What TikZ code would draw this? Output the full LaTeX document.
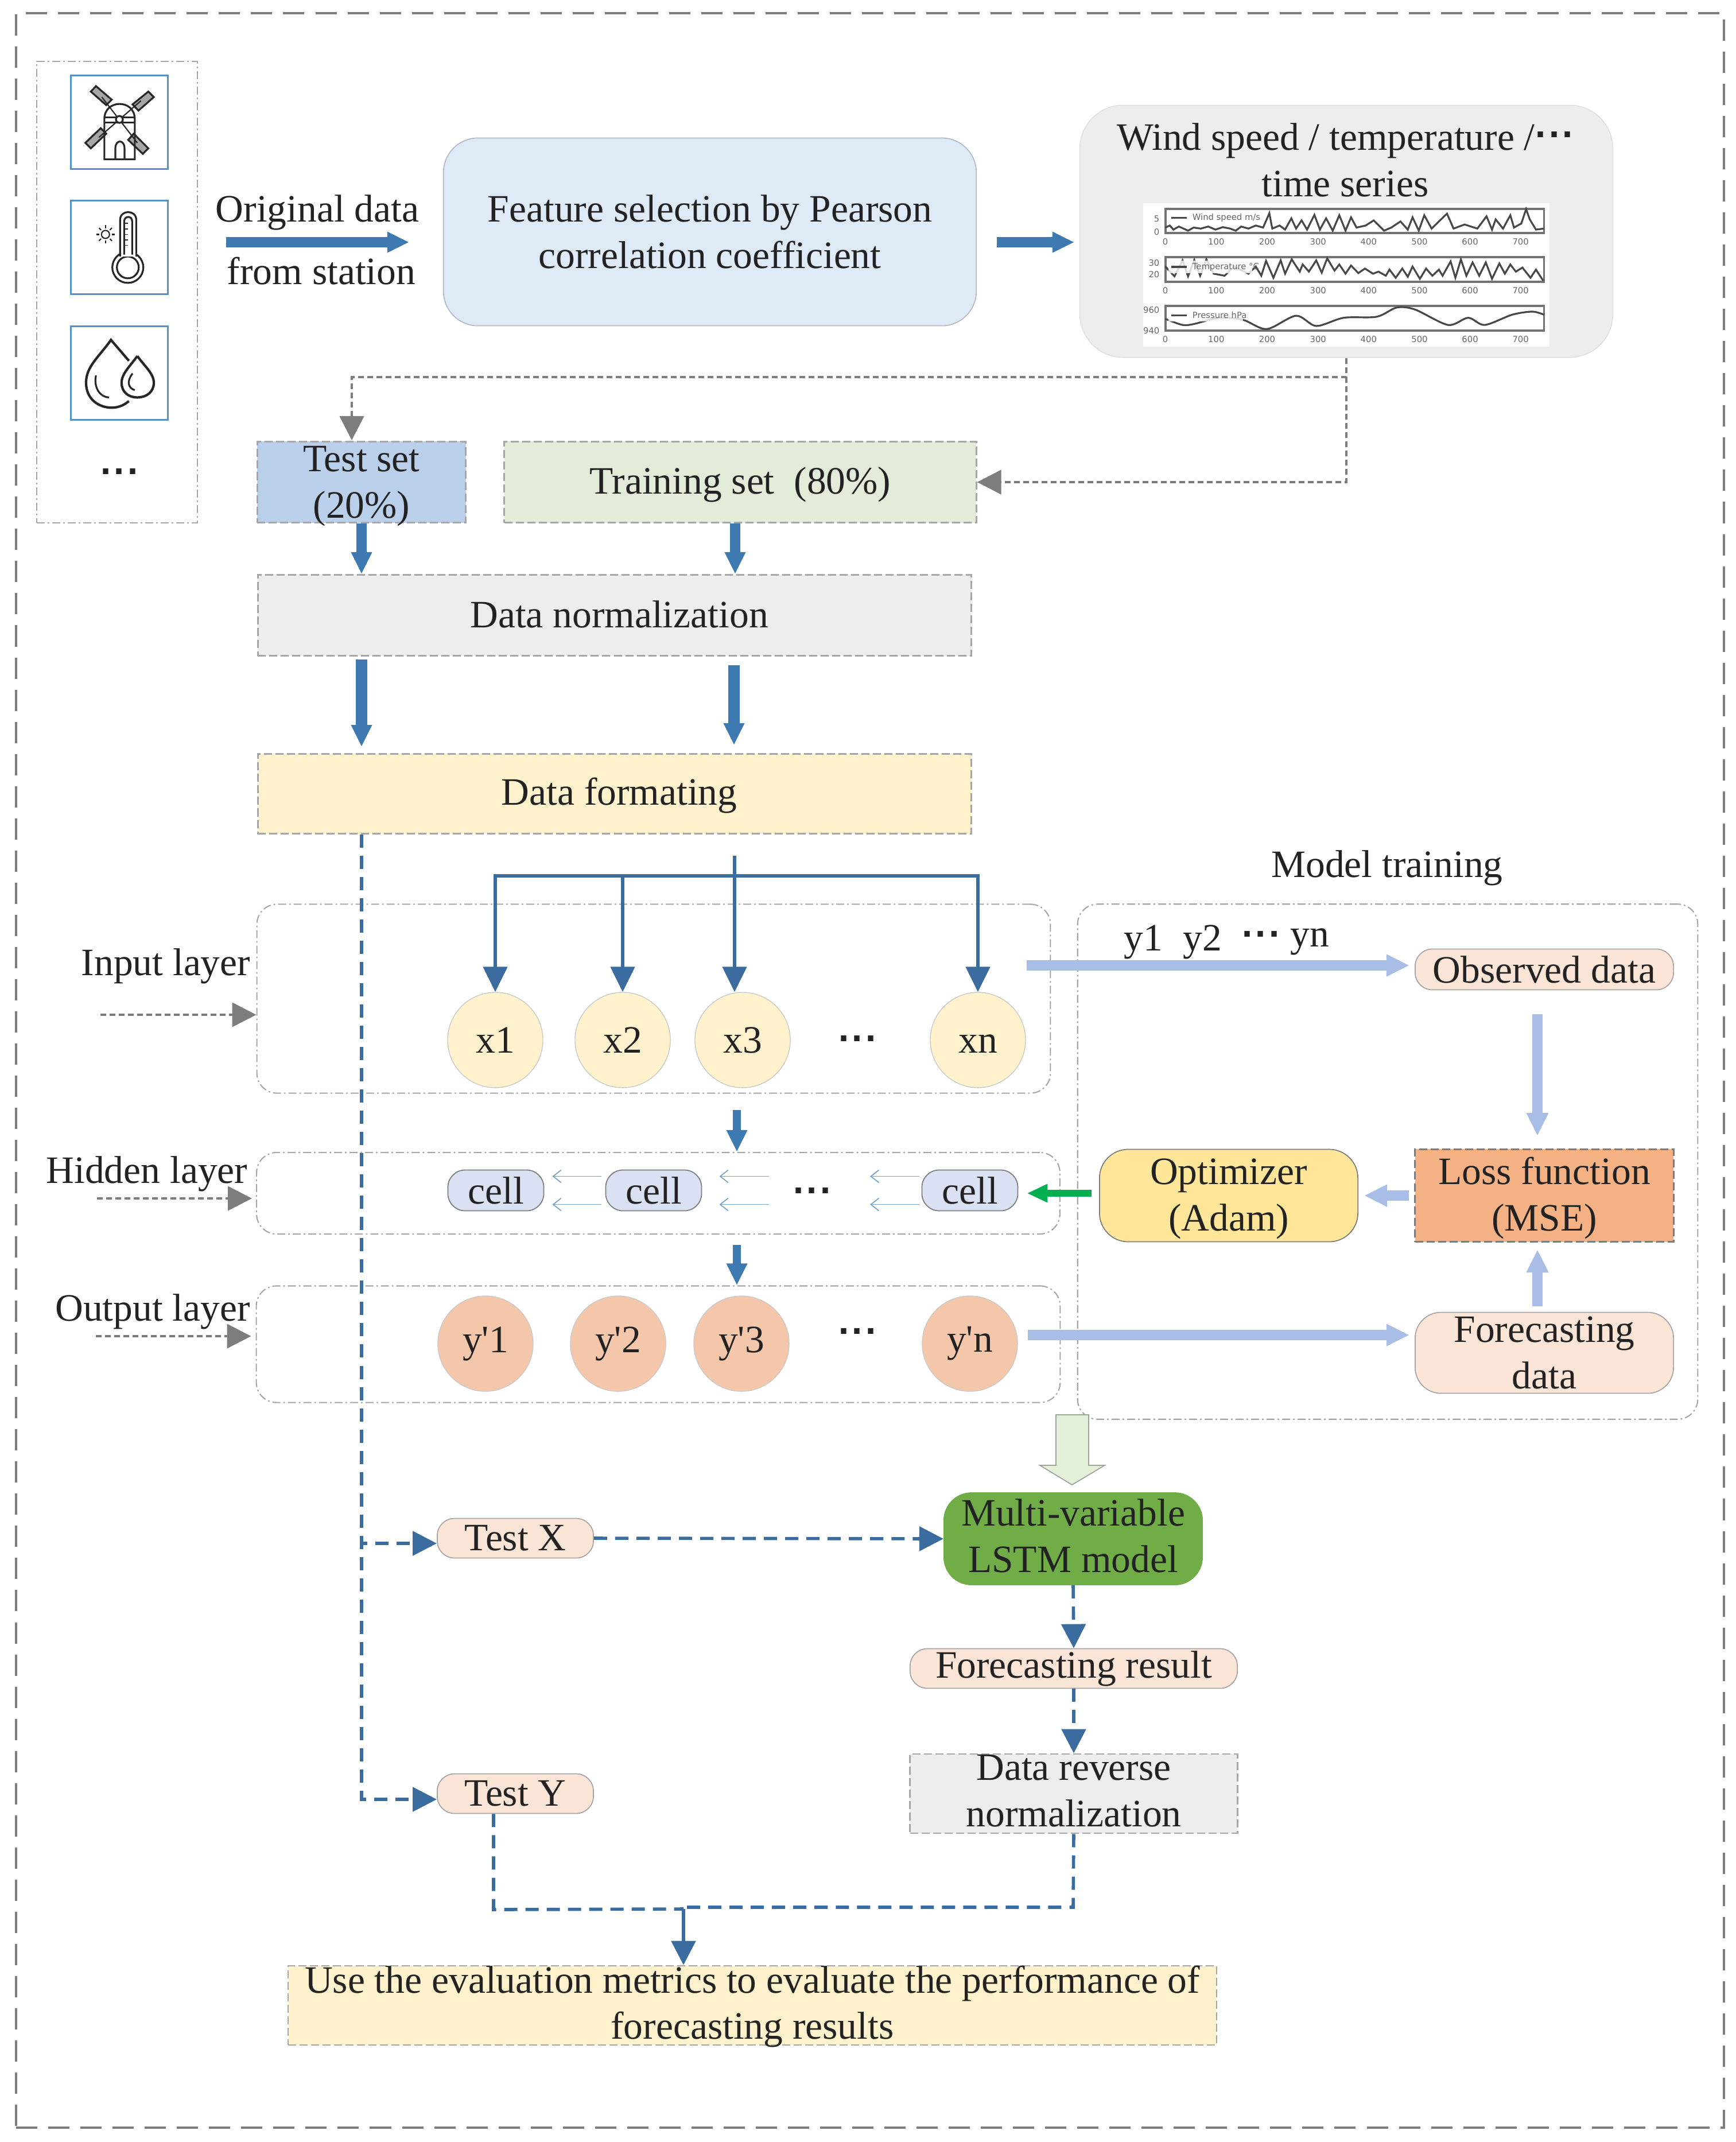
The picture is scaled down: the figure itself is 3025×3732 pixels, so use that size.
\documentclass[tikz,border=0pt]{standalone}
\usepackage{fontspec}
\setmainfont{Liberation Serif}
\newfontfamily\dotfont{DejaVu Sans}
\newfontfamily\plotfont{DejaVu Sans}
\usetikzlibrary{arrows.meta, calc}
\definecolor{inktext}{RGB}{34, 34, 34}
\definecolor{framegray}{RGB}{125, 125, 125}
\definecolor{linegray}{RGB}{166, 166, 166}
\definecolor{arrowblue}{RGB}{62, 122, 178}
\definecolor{treeblue}{RGB}{58, 108, 160}
\definecolor{lightarrow}{RGB}{168, 190, 230}
\definecolor{iconblue}{RGB}{84, 146, 204}
\definecolor{featfill}{RGB}{222, 234, 246}
\definecolor{seriesfill}{RGB}{237, 237, 237}
\definecolor{testfill}{RGB}{186, 207, 233}
\definecolor{trainfill}{RGB}{226, 236, 217}
\definecolor{yellowfill}{RGB}{255, 242, 204}
\definecolor{peachfill}{RGB}{251, 229, 214}
\definecolor{outfill}{RGB}{244, 199, 171}
\definecolor{cellfill}{RGB}{217, 225, 242}
\definecolor{lossfill}{RGB}{244, 177, 131}
\definecolor{optfill}{RGB}{255, 230, 153}
\definecolor{lstmfill}{RGB}{112, 173, 71}
\definecolor{bigarrow}{RGB}{226, 240, 217}
\definecolor{greenhead}{RGB}{0, 176, 80}
\newcommand{\sqdots}{{\dotfont\bfseries\fontsize{15}{15}\selectfont.\kern1pt.\kern1pt.}}
\newcommand{\dropstrut}{\rule{0pt}{16pt}}
\tikzset{
  dashbox/.style={draw=linegray, line width=0.8pt, dash pattern=on 0.14cm off 0.06cm, minimum width=#1, inner sep=0pt, align=center},
  layerbox/.style={draw=linegray, line width=0.6pt, dash pattern=on 0.14cm off 0.05cm on 0.03cm off 0.05cm, rounded corners=0.35cm},
  softbox/.style={draw=linegray, line width=0.5pt, inner sep=0pt, align=center, rounded corners=#1},
  incirc/.style={circle, draw=linegray!60, line width=0.4pt, fill=yellowfill, minimum size=1.66cm, inner sep=0pt},
  outcirc/.style={circle, draw=linegray!60, line width=0.4pt, fill=outfill, minimum size=1.66cm, inner sep=0pt},
  cellnode/.style={draw=framegray, line width=0.5pt, fill=cellfill, rounded corners=0.3cm, minimum width=1.67cm, minimum height=0.71cm, inner sep=0pt},
  iconbox/.style={draw=iconblue, line width=1.1pt, fill=white, minimum width=1.69cm, minimum height=1.63cm},
  boxtext/.style={align=center, inner sep=0pt},
  fatblue/.style={draw=arrowblue, line width=0.18cm, -{Triangle[length=0.38cm,width=0.34cm]}},
  fatlight/.style={draw=lightarrow, line width=0.18cm, -{Triangle[length=0.4cm,width=0.36cm]}},
  tree/.style={draw=treeblue, line width=1.5pt, -{Triangle[length=0.44cm,width=0.42cm]}},
  dashblue/.style={draw=treeblue, line width=1.6pt, dash pattern=on 0.23cm off 0.14cm, -{Triangle[length=0.42cm,width=0.42cm]}},
  dotgray/.style={draw=framegray, line width=1.3pt, dash pattern=on 0.1cm off 0.06cm, -{Triangle[length=0.42cm,width=0.42cm]}},
  thinback/.style={draw=arrowblue!70, line width=0.5pt, -{Straight Barb[length=0.14cm,width=0.22cm]}},
  plotline/.style={draw=black!72, line width=0.9pt},
  plotframe/.style={draw=black!55, line width=1.1pt},
  plotlabel/.style={font=\plotfont\fontsize{4.2}{5}\selectfont, text=black!60, inner sep=0pt},
  iconline/.style={draw=black!85, line width=0.9pt}
}

\begin{document}
\begin{tikzpicture}[x=0.01cm, y=-0.01cm, font=\fontsize{19.2}{23}\selectfont, text=inktext]
  \useasboundingbox (0,0) rectangle (3025,3732);

  % Outer frame and station box
  \node[draw=framegray, line width=1.1pt, dash pattern=on 0.37cm off 0.19cm, minimum width=29.74cm, minimum height=36.82cm] (frame) at (1516,1865) {};
  \node[layerbox, rounded corners=0pt, minimum width=2.8cm, minimum height=8.04cm] (station) at (204,509) {};

  % Icons
  \node[iconbox] (iconwind) at (208,213) {};
  \node[iconbox] (icontemp) at (208,431) {};
  \node[iconbox] (iconrain) at (208,650) {};
  \node (stationdots) at (208,821) {\sqdots};
  \begin{scope}[x=0.00638cm, y=-0.00638cm]
    % windmill
    \draw[iconline, fill=black!35] (262,235) -- (305,272) -- (290,287) -- (248,250) -- cycle;
    \draw[iconline, fill=black!35] (362,285) -- (405,250) -- (420,265) -- (378,302) -- cycle;
    \draw[iconline, fill=black!35] (233,390) -- (275,350) -- (290,365) -- (248,405) -- cycle;
    \draw[iconline, fill=black!35] (350,382) -- (365,365) -- (405,405) -- (390,420) -- cycle;
    \draw[iconline] (285,435) -- (285,325) .. controls (285,270) and (368,270) .. (368,325) -- (368,435) -- cycle;
    \draw[iconline] (285,320) -- (368,320) (285,335) -- (368,335);
    \draw[iconline] (315,435) -- (315,405) .. controls (315,380) and (340,380) .. (340,405) -- (340,435);
    \draw[iconline, line width=0.6pt] (278,265) -- (375,390) (385,275) -- (270,375);
    \draw[iconline, fill=white] (326,326) circle (0.06cm);
    % thermometer
    \draw[iconline] (328,692) -- (328,600) .. controls (328,572) and (372,572) .. (372,600) -- (372,692);
    \draw[iconline] (349,730) circle (0.27cm);
    \draw[iconline, fill=white] (349,730) circle (0.19cm);
    \fill[white] (330,680) rectangle (370,700);
    \draw[iconline] (328,692) -- (328,700) (372,692) -- (372,700);
    \draw[iconline] (339,695) -- (339,605) .. controls (339,588) and (361,588) .. (361,605) -- (361,695);
    \foreach \t in {610,625,...,670}
      \draw[iconline, line width=0.5pt] (339,\t) -- (350,\t);
    \draw[iconline, line width=0.6pt] (288,640) circle (0.07cm);
    \foreach \r in {0,45,...,315}
      \draw[iconline, line width=0.6pt] ($(288,640)+(\r:17)$) -- ($(288,640)+(\r:25)$);
    % drops
    \draw[iconline, line width=1.2pt] (352,985) -- (303,928) .. controls (270,975) and (235,1000) .. (235,1045) .. controls (235,1090) and (270,1113) .. (305,1113) .. controls (325,1113) and (340,1105) .. (352,1095);
    \draw[iconline] (262,1025) .. controls (255,1060) and (275,1085) .. (298,1085);
    \draw[iconline, line width=1.2pt] (375,972) .. controls (355,1000) and (332,1020) .. (332,1045) .. controls (332,1070) and (350,1085) .. (375,1085) .. controls (400,1085) and (420,1070) .. (420,1045) .. controls (420,1020) and (395,1000) .. (375,972);
    \draw[iconline] (362,1020) .. controls (345,1040) and (350,1060) .. (368,1065);
  \end{scope}

  % Top row
  \node (origa) at (553,370) {Original data};
  \node (origb) at (560,472) {from station};
  \node[softbox=0.6cm, fill=featfill, draw=featfill!80!black, minimum width=9.28cm, minimum height=3.27cm] (feature) at (1237,404) {Feature selection by Pearson\\correlation coefficient};
  \node[softbox=0.75cm, fill=seriesfill, draw=seriesfill!95!black, minimum width=9.28cm, minimum height=4.39cm] (series) at (2346,403) {};
  \node[align=center] (seriestext) at (2344,279) {Wind speed / temperature /\raisebox{0.7ex}{\sqdots}\\time series};
  \coordinate (stationout) at (394,422);
  \draw[fatblue] (stationout) -- ([xshift=-0.59cm]feature.west |- stationout);
  \draw[fatblue] (feature.east |- stationout) ++(35,0) coordinate (featout) -- ([xshift=-0.09cm]series.west |- featout);

  % Small chart inside the series box
  \node[fill=white, minimum width=7.08cm, minimum height=2.5cm] (chart) at (2346,479) {};
  \begin{scope}[shift={(1850,150)}, x=0.00638cm, y=-0.00357cm]
    \foreach \top/\bot/\lab in {598/716/760, 835/955/998, 1072/1192/1236} {
      \draw[plotframe] (283,\top) rectangle (1317,\bot);
      \foreach \tk/\tx in {283/0, 422/100, 561/200, 700/300, 838/400, 977/500, 1115/600, 1253/700}
        \node[plotlabel] (tick\lab\tx) at (\tk,\lab) {\tx};
    }
    \node[plotlabel, anchor=east] (wa) at (268,648) {5};
    \node[plotlabel, anchor=east] (wb) at (268,712) {0};
    \node[plotlabel, anchor=east] (ta) at (268,862) {30};
    \node[plotlabel, anchor=east] (tb) at (268,918) {20};
    \node[plotlabel, anchor=east] (pa) at (268,1092) {960};
    \node[plotlabel, anchor=east] (pb) at (268,1192) {940};
    \draw[plotline] plot coordinates {(283,690) (295,680) (305,700) (320,685) (345,705) (360,690) (380,695) (400,685) (420,700) (440,688) (460,695) (475,705) (490,685) (510,695) (530,680) (550,690) (567,620) (575,695) (595,680) (610,700) (627,645) (640,695) (655,655) (670,700) (690,628) (705,700) (722,645) (740,705) (758,630) (775,705) (790,640) (805,690) (830,680) (852,655) (880,705) (900,690) (925,660) (945,700) (958,640) (975,705) (990,630) (1010,695) (1030,660) (1052,622) (1070,695) (1100,675) (1135,695) (1160,635) (1175,700) (1185,650) (1205,695) (1225,630) (1235,690) (1255,670) (1268,600) (1278,650) (1295,700) (1317,695)};
    \draw[plotline] plot coordinates {(283,880) (308,928) (330,850) (345,928) (362,848) (378,925) (395,845) (415,915) (445,925) (470,880) (510,915) (530,880) (545,925) (558,852) (578,935) (598,850) (610,915) (628,845) (650,905) (658,870) (675,905) (695,850) (710,910) (725,840) (745,900) (758,870) (775,915) (790,875) (810,912) (828,890) (850,915) (865,905) (885,925) (895,895) (912,935) (930,890) (945,930) (958,880) (978,940) (995,890) (1012,925) (1030,895) (1040,925) (1062,855) (1075,935) (1090,845) (1105,925) (1122,860) (1140,925) (1158,860) (1175,940) (1195,865) (1210,915) (1225,870) (1240,905) (1258,885) (1280,935) (1295,895) (1315,950)};
    \draw[plotline] plot[smooth] coordinates {(283,1135) (330,1165) (362,1160) (430,1130) (495,1140) (560,1185) (640,1120) (695,1170) (770,1130) (860,1125) (915,1080) (965,1090) (1055,1165) (1110,1130) (1155,1165) (1230,1115) (1285,1100) (1317,1115)};
    % legends
    \foreach \ly/\lw/\ltxt in {642/525/{Wind speed m/s}, 882/520/{Temperature °C}, 1118/495/{Pressure hPa}} {
      \fill[white, opacity=0.8] (292,\ly-30) rectangle (\lw,\ly+30);
      \draw[plotline] (300,\ly) -- (342,\ly);
      \node[plotlabel, anchor=west] (leg\ly) at (356,\ly) {\ltxt};
    }
  \end{scope}

  % Split
  \node[dashbox=3.63cm, fill=testfill, minimum height=1.41cm] (testset) at (630,840) {};
  \node[boxtext] (testsettext) at (630,847) {Test set\\(20\%)};
  \node[dashbox=8.22cm, fill=trainfill, minimum height=1.41cm] (trainset) at (1290,840) {\dropstrut Training set\ \ (80\%)};
  \coordinate (branch) at (series.south |- 0,657);
  \coordinate (testin) at (613,767);
  \draw[dotgray] (series.south) -- (branch) -| (testin);
  \draw[dotgray] (branch) |- (trainset.east);

  % Preprocessing
  \node[dashbox=12.43cm, fill=seriesfill, minimum height=1.41cm] (norm) at (1071,1072) {};
  \node (normtext) at (1079,1070) {Data normalization};
  \node[dashbox=12.43cm, fill=yellowfill, minimum height=1.39cm] (formating) at (1071,1383) {};
  \node (formatingtext) at (1079,1386) {Data formating};
  \draw[fatblue] (testset.south) -- (testset.south |- norm.north);
  \draw[fatblue] ([xshift=-0.09cm]trainset.south) -- ([xshift=-0.09cm]trainset.south |- norm.north);
  \draw[fatblue, line width=0.2cm, shorten <=0.05cm, shorten >=0.11cm] (norm.south -| testset.south) -- (formating.north -| testset.south);
  \draw[fatblue, line width=0.2cm, shorten <=0.15cm, shorten >=0.14cm] ([xshift=-0.11cm]norm.south -| trainset.south) -- ([xshift=-0.11cm]formating.north -| trainset.south);

  % Input layer
  \node[layerbox, minimum width=13.82cm, minimum height=3.29cm] (inlayer) at (1139,1740) {};
  \node (inlabel) at (289,1683) {Input layer};
  \coordinate (inlabelend) at (175,1768);
  \draw[dotgray] (inlabelend) -- (inlayer.west |- inlabelend);
  \foreach \name/\cx in {x1/863, x2/1085, x3/1294, xn/1704}
    \node[incirc, text height=12.9pt, text depth=0pt] (\name) at (\cx,1812) {\name};
  \node (xdots) at (1494,1809) {\sqdots};
  \coordinate (xtop) at (1280,1491);
  \coordinate (xbar) at (1280,1526);
  \draw[tree, -] (xtop) -- (xbar);
  \draw[tree] (xbar) -| (x1.north);
  \draw[tree] (xbar) -| (x2.north);
  \draw[tree] (xtop) -- (xtop |- x3.north);
  \draw[tree] (xbar) -| (xn.north);

  % Hidden layer
  \node[layerbox, minimum width=13.99cm, minimum height=1.42cm] (hidlayer) at (1147,2079) {};
  \node (hidlabel) at (256,2045) {Hidden layer};
  \coordinate (hidlabelend) at (169,2088);
  \draw[dotgray] (hidlabelend) -- ([xshift=-0.07cm]hidlayer.west |- hidlabelend);
  \node[cellnode] (cell1) at (864,2074) {cell};
  \node[cellnode] (cell2) at (1139,2074) {cell};
  \node[cellnode] (cell3) at (1690,2074) {cell};
  \node (celldots) at (1415,2074) {\sqdots};
  \foreach \s in {0.245cm,-0.245cm} {
    \draw[thinback] ([xshift=-0.07cm,yshift=\s]cell2.west) -- ([xshift=0.14cm,yshift=\s]cell1.east);
    \draw[thinback] ([xshift=-0.75cm,yshift=\s]celldots.center) -- ([xshift=0.3cm,yshift=\s]cell2.east);
    \draw[thinback] ([xshift=-0.04cm,yshift=\s]cell3.west) -- ([xshift=1.01cm,yshift=\s]celldots.center);
  }
  \draw[fatblue, line width=0.14cm] ([xshift=0.04cm,yshift=-0.28cm]inlayer.south -| x3) ++(-14,0) coordinate (inflow) -- (inflow |- hidlayer.north);

  % Output layer
  \node[layerbox, minimum width=14cm, minimum height=2.03cm] (outlayer) at (1147,2342) {};
  \node (outlabel) at (266,2285) {Output layer};
  \coordinate (outlabelend) at (167,2328);
  \draw[dotgray] (outlabelend) -- ([xshift=-0.08cm]outlayer.west |- outlabelend);
  \foreach \name/\cx/\txt in {y1/846/1, y2/1077/2, y3/1292/3, yN/1690/n}
    \node[outcirc] (\name) at (\cx,2341) {y\textquotesingle\txt};
  \node (ydots) at (1494,2319) {\sqdots};
  \coordinate (hidflow) at (1284,2169);
  \draw[fatblue, line width=0.14cm] (hidflow) -- (hidflow |- outlayer.north);

  % Model training
  \node (traintitle) at (2417,1512) {Model training};
  \node[layerbox, minimum width=10.8cm, minimum height=8.97cm] (trainlayer) at (2418,2024) {};
  \node (obsa) at (1992,1641) {y1};
  \node (obsb) at (2095,1641) {y2};
  \node (obsdots) at (2197,1627) {\sqdots};
  \node (obsn) at (2282,1641) {yn};
  \node[softbox=0.3cm, fill=peachfill, minimum width=4.5cm, minimum height=0.71cm] (observed) at (2691,1689) {Observed data};
  \node[dashbox=4.5cm, draw=framegray, fill=lossfill, minimum height=1.61cm] (loss) at (2691,2083) {\dropstrut Loss function\\(MSE)};
  \node[softbox=0.5cm, fill=optfill, draw=framegray, minimum width=4.5cm, minimum height=1.61cm] (optimizer) at (2141,2083) {\dropstrut Optimizer\\(Adam)};
  \node[softbox=0.45cm, fill=peachfill, minimum width=4.5cm, minimum height=1.41cm] (fcdata) at (2691,2357) {Forecasting\\data};
  \coordinate (yin) at (1789,1682);
  \coordinate (yout) at (1791,2326);
  \draw[fatlight] (yin) -- ([xshift=-0.09cm]observed.west |- yin);
  \draw[fatlight] (yout) -- ([xshift=-0.09cm]fcdata.west |- yout);
  \draw[fatlight, shorten <=0.42cm, shorten >=0.22cm] ([xshift=-0.12cm]observed.south) -- ([xshift=-0.12cm]loss.north);
  \draw[fatlight, shorten <=0.1cm, shorten >=0.12cm] ([xshift=-0.12cm]fcdata.north) -- ([xshift=-0.12cm]loss.south);
  \draw[fatlight, shorten <=0.09cm, shorten >=0.1cm] (loss.west) -- (optimizer.east);
  \draw[draw=greenhead, line width=0.12cm, -{Triangle[length=0.36cm,width=0.3cm]}, shorten <=0.13cm, shorten >=0.15cm] ([yshift=0.04cm]optimizer.west) -- ([yshift=0.04cm]optimizer.west -| cell3.east);

  % Results
  \draw[draw=trainfill!70!black, fill=bigarrow, line width=0.5pt] (1840,2465) -- (1897,2465) -- (1897,2553) -- (1925,2553) -- (1868,2587) -- (1812,2553) -- (1840,2553) -- cycle;
  \node[softbox=0.48cm, fill=lstmfill, draw=lstmfill, minimum width=4.5cm, minimum height=1.6cm] (lstm) at (1870,2681) {};
  \node[boxtext] (lstmtext) at (1870,2676) {Multi-variable\\LSTM model};
  \node[softbox=0.3cm, fill=peachfill, minimum width=2.72cm, minimum height=0.69cm] (testx) at (898,2680) {Test X};
  \node[softbox=0.3cm, fill=peachfill, minimum width=2.72cm, minimum height=0.69cm] (testy) at (898,3125) {Test Y};
  \node[softbox=0.3cm, fill=peachfill, minimum width=5.7cm, minimum height=0.69cm] (fcresult) at (1871,2907) {Forecasting result};
  \node[dashbox=5.7cm, fill=seriesfill, minimum height=1.38cm] (reverse) at (1871,3125) {};
  \node[boxtext] (reversetext) at (1871,3120) {Data reverse\\normalization};
  \node[dashbox=16.17cm, fill=yellowfill, minimum height=1.38cm] (metrics) at (1311,3494) {};
  \node[boxtext] (metricstext) at (1311,3496) {Use the evaluation metrics to evaluate the performance of\\forecasting results};
  \draw[dashblue] (formating.south -| testset.south) |- ([yshift=-0.09cm]testx.west);
  \draw[dashblue] (formating.south -| testset.south) |- ([yshift=-0.1cm]testy.west);
  \draw[dashblue] (testx.east) -- (lstm.west);
  \draw[dashblue] (lstm.south) -- (fcresult.north);
  \draw[dashblue] (fcresult.south) -- (reverse.north);
  \coordinate (joinleft) at (860,3327);
  \coordinate (joinright) at (1870,3323);
  \coordinate (joindown) at (1191,3326);
  \draw[dashblue, -] (testy.south -| joinleft) -- (joinleft) -- (joindown);
  \draw[dashblue, -] (reverse.south) -- (joinright) -- (joinright -| joindown);
  \draw[draw=treeblue, line width=1.6pt, -{Triangle[length=0.42cm,width=0.42cm]}] (joindown) -- (joindown |- metrics.north);
\end{tikzpicture}
\end{document}
